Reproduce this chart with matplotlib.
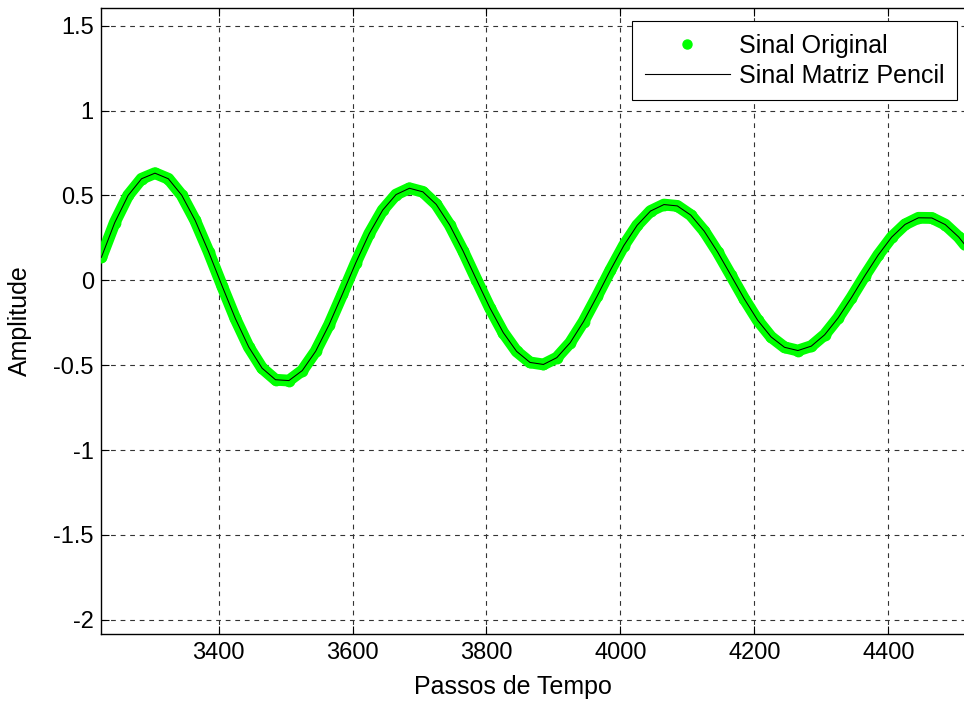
import matplotlib
matplotlib.use("Agg")
import matplotlib.pyplot as plt
from matplotlib.lines import Line2D

# ---- data ----
passos = [3225, 3245, 3265, 3285, 3305, 3325, 3345, 3365, 3385, 3405,
          3425, 3445, 3465, 3485, 3505, 3525, 3545, 3565, 3585, 3605,
          3625, 3645, 3665, 3685, 3705, 3725, 3745, 3765, 3785, 3805,
          3825, 3845, 3865, 3885, 3905, 3925, 3945, 3965, 3985, 4005,
          4025, 4045, 4065, 4085, 4105, 4125, 4145, 4165, 4185, 4205,
          4225, 4245, 4265, 4285, 4305, 4325, 4345, 4365, 4385, 4405,
          4425, 4445, 4465, 4485, 4505, 4525]
sinal_original = [0.135, 0.340, 0.500, 0.598, 0.631, 0.598, 0.501, 0.353, 0.169, -0.031,
                  -0.225, -0.393, -0.518, -0.586, -0.591, -0.532, -0.418, -0.262, -0.081, 0.104,
                  0.275, 0.413, 0.505, 0.542, 0.521, 0.447, 0.326, 0.173, 0.004, -0.162,
                  -0.308, -0.419, -0.484, -0.496, -0.456, -0.368, -0.243, -0.095, 0.059, 0.204,
                  0.324, 0.408, 0.446, 0.438, 0.384, 0.290, 0.167, 0.029, -0.110, -0.236,
                  -0.334, -0.395, -0.414, -0.388, -0.321, -0.222, -0.102, 0.027, 0.149, 0.254,
                  0.329, 0.368, 0.367, 0.328, 0.255, 0.157]
sinal_pencil = list(sinal_original)

xticks = [3400, 3600, 3800, 4000, 4200, 4400]
yticks = [-2, -1.5, -1, -0.5, 0, 0.5, 1, 1.5]
ytick_labels = ['-2', '-1.5', '-1', '-0.5', '0', '0.5', '1', '1.5']

W, H = 964, 702
plt.rcParams['font.family'] = ['Liberation Sans', 'DejaVu Sans']
fig = plt.figure(figsize=(W / 100, H / 100), dpi=100)
left, right, top, bottom = 100.7, 964.0, 8.0, 634.0
ax = fig.add_axes([left / W, (H - bottom) / H, (right - left) / W, (bottom - top) / H])

ax.plot(passos, sinal_original, color='#00ff00', lw=8.5, solid_capstyle='round',
        solid_joinstyle='round', zorder=3)
ax.plot(passos, sinal_original, ls='none', marker='o', ms=8.5, mew=0,
        mfc='#00ff00', zorder=3)
ax.plot(passos, sinal_pencil, color='black', lw=0.75, zorder=4)

ax.set_xlim(3224, 4513)
ax.set_ylim(-2.084, 1.604)
ax.set_xticks(xticks)
ax.set_xticklabels([str(t) for t in xticks])
ax.set_yticks(yticks)
ax.set_yticklabels(ytick_labels)

ax.grid(True, color='#333333', linestyle=(0, (4.3, 4.3)), linewidth=0.8)
ax.set_axisbelow(True)
ax.tick_params(axis='both', direction='in', length=6, width=0.8, labelsize=17,
               top=True, right=False, colors='black')
ax.tick_params(axis='x', pad=6)
ax.tick_params(axis='y', pad=5)
for s in ['left', 'bottom', 'top']:
    ax.spines[s].set_linewidth(1.0)
    ax.spines[s].set_color('black')
ax.spines['right'].set_visible(False)

ax.set_xlabel('Passos de Tempo', fontsize=18)
ax.xaxis.set_label_coords((513 - left) / (right - left), -(687 - bottom) / (bottom - top))
ax.xaxis.label.set_va('center')
ax.set_ylabel('Amplitude', fontsize=18)
ax.yaxis.set_label_coords(-(left - 20) / (right - left), 0.5)
ax.yaxis.label.set_va('center')

handles = [Line2D([], [], color='#00ff00', marker='o', ms=6.5, ls='none'),
           Line2D([], [], color='black', lw=0.8)]
leg = ax.legend(handles, ['Sinal Original', 'Sinal Matriz Pencil'], loc='upper right',
                bbox_to_anchor=((956.7 - left) / (right - left), 1 - (21 - top) / (bottom - top)),
                fontsize=18, frameon=True, fancybox=False, framealpha=1,
                edgecolor='black', handlelength=3.4, borderpad=0.5, labelspacing=0.25,
                borderaxespad=0, handletextpad=0.35)
leg.get_frame().set_linewidth(0.8)
leg.set_zorder(10)

fig.savefig('out.png', dpi=100)
